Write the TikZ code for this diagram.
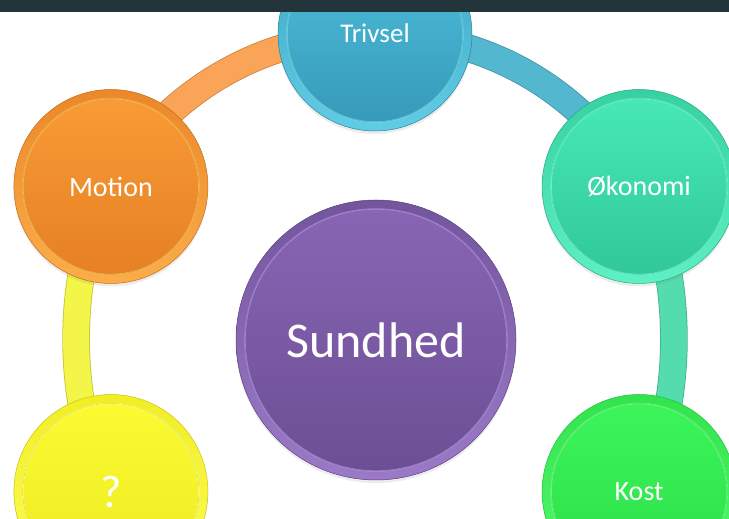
\documentclass[tikz,border=0pt]{standalone}
\usepackage{fontspec}
\setmainfont{Carlito}
\usetikzlibrary{shadows}
\definecolor{barcol}{HTML}{24343B}
% circle colours: light / dark / highlight
\definecolor{trL}{HTML}{4EC2DE}\definecolor{trD}{HTML}{3698B8}\definecolor{trH}{HTML}{8AE6F4}
\definecolor{moL}{HTML}{F99C36}\definecolor{moD}{HTML}{E57F24}\definecolor{moH}{HTML}{FFD472}
\definecolor{okL}{HTML}{48EAB6}\definecolor{okD}{HTML}{30C698}\definecolor{okH}{HTML}{8CFFE2}
\definecolor{quL}{HTML}{FCFC34}\definecolor{quD}{HTML}{ECE81E}\definecolor{quH}{HTML}{FFFFA6}
\definecolor{koL}{HTML}{3CF65C}\definecolor{koD}{HTML}{2CDC46}\definecolor{koH}{HTML}{98FFA4}
\definecolor{suL}{HTML}{8A66B6}\definecolor{suD}{HTML}{6A4E92}\definecolor{suH}{HTML}{C4A6F2}
% band colours
\definecolor{bOr}{HTML}{F9A456}\definecolor{bBl}{HTML}{52B7CF}
\definecolor{bTe}{HTML}{55DCAE}\definecolor{bYe}{HTML}{F3F548}
\tikzset{
  bub/.style n args={4}{circle, inner sep=0pt, minimum size=#1,
    draw=#3!85!black, line width=0.5pt,
    top color=#3!70!#2, bottom color=#4!30!#2,
    drop shadow={opacity=0.15, shadow xshift=0pt, shadow yshift=-3pt},
    text=white,
    path picture={
      \fill[top color=#2, bottom color=#3, draw=#4, draw opacity=0.55, line width=1.3pt]
        (path picture bounding box.center) circle ({#1/2-9pt});
    }},
  smallbub/.style n args={3}{bub={194pt}{#1}{#2}{#3}, font=\fontsize{28}{30}\selectfont},
  band/.style 2 args={line width=0.8pt, draw=#1!80!black, double=#1, double distance=26pt},
}
\begin{document}
\begin{tikzpicture}[x=1pt,y=1pt]
\useasboundingbox (0,0) rectangle (729,519);
\clip (0,0) rectangle (729,519);
\fill[white] (0,0) rectangle (729,519);
\path (375,485) coordinate (ptr)
      (110.9,332.5) coordinate (pmo)
      (639.1,332.5) coordinate (pok)
      (110.9,27.5) coordinate (pqu)
      (639.1,27.5) coordinate (pko);
% bands
\draw[band={bOr}{}] (pmo) to[bend left=30, looseness=0.93] (ptr);
\draw[band={bBl}{}] (ptr) to[bend left=30, looseness=0.93] (pok);
\draw[band={bTe}{}] (pok) to[bend left=30, looseness=0.78] (pko);
\draw[band={bYe}{}] (pqu) to[bend left=30, looseness=0.78] (pmo);
% circles
\node[smallbub={moL}{moD}{moH}] (motion) at (pmo) {Motion};
\node[smallbub={okL}{okD}{okH}] (okonomi) at (pok) {Økonomi};
\node[smallbub={quL}{quD}{quH}, font=\fontsize{46}{48}\selectfont] (spm) at (pqu) {?};
\node[smallbub={koL}{koD}{koH}] (kost) at (pko) {Kost};
\node[smallbub={trL}{trD}{trH}, font=\fontsize{27}{29}\selectfont] (trivsel) at (ptr) {\raisebox{2pt}{Trivsel}};
\node[bub={280pt}{suL}{suD}{suH}, font=\fontsize{50}{52}\selectfont] (sundhed) at (376,179) {Sundhed};
% top bar
\fill[barcol] (0,507) rectangle (729,519);
\end{tikzpicture}
\end{document}
